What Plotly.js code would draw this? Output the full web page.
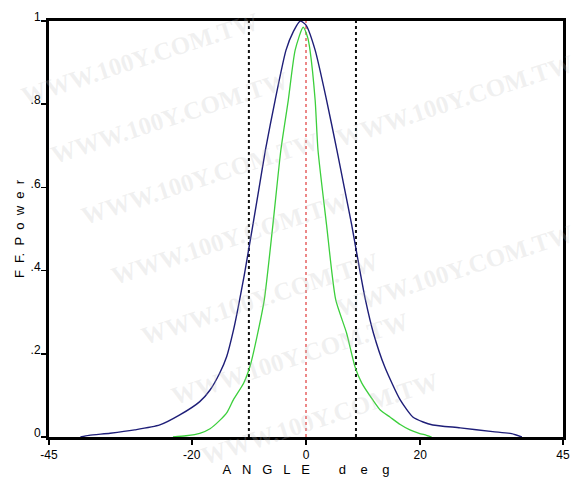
<!DOCTYPE html>
<html>
<head>
<meta charset="utf-8">
<script src="https://cdn.plot.ly/plotly-3.0.1.min.js"></script>
<style>html,body{margin:0;padding:0;background:#fff;}#chart{width:584px;height:482px;}</style>
</head>
<body>
<div id="chart"></div>
<script>
// Wide beam (navy)
const blueAngle = [-39.5,-38,-34.3,-30,-25.6,-22.1,-18.6,-16.8,-15.1,-13.9,-12.7,-11.9,-10.8,-9.3,-8.2,-7.1,-5.4,-3.5,-2.2,-1.0,0.0,1.6,3.6,5.4,6.7,8.0,9.3,10.4,11.8,13.8,16.5,18.7,20.5,22.2,27,32.7,36,37.8];
const bluePower = [0.0,0.004,0.009,0.017,0.029,0.053,0.085,0.113,0.154,0.193,0.257,0.31,0.39,0.51,0.6,0.69,0.81,0.93,0.975,1.0,0.99,0.93,0.81,0.69,0.6,0.51,0.41,0.33,0.25,0.168,0.089,0.048,0.036,0.029,0.022,0.013,0.008,0.0];
// Narrow beam (green)
const greenAngle = [-23.3,-21,-18.6,-16.8,-15.1,-13.8,-12.7,-10.9,-9.8,-8.6,-7.3,-5.8,-4.4,-3.1,-1.9,-0.5,0.3,0.7,1.6,2.1,3.6,5.2,7.1,8.6,9.75,11.7,13,14.7,16.5,18.2,19.8,21.1,22];
const greenPower = [0.0,0.003,0.009,0.02,0.04,0.06,0.09,0.13,0.17,0.24,0.33,0.51,0.69,0.81,0.93,0.985,0.96,0.93,0.81,0.69,0.51,0.33,0.25,0.168,0.13,0.089,0.065,0.048,0.03,0.017,0.009,0.004,0.0];
// Marker lines
const halfPowerAngles = [-10.0, 8.75];
const centerAngle = 0;
// Ticks
const xTickVals = [-45,-20,0,20,45];
const xTickText = ['-45','-20','0','20','45'];
const yTickVals = [0,0.2,0.4,0.6,0.8,1];
const yTickText = ['0','.2','.4','.6','.8','1'];
const watermarkText = 'WWW.100Y.COM.TW';

const traces = [];
halfPowerAngles.forEach(a => traces.push({
  x:[a,a], y:[0,1], mode:'lines', line:{color:'#111', width:2, dash:'3px,3px'}, showlegend:false, hoverinfo:'skip'
}));
traces.push({x:[centerAngle,centerAngle], y:[0,1], mode:'lines', line:{color:'#e03a3a', width:1.2, dash:'3px,3px'}, showlegend:false, hoverinfo:'skip'});
traces.push({x:greenAngle, y:greenPower, mode:'lines', line:{color:'#3ccf3c', width:1.3, shape:'spline', smoothing:0.6}, showlegend:false});
traces.push({x:blueAngle, y:bluePower, mode:'lines', line:{color:'#1e1e78', width:1.4, shape:'spline', smoothing:0.6}, showlegend:false});

// watermark annotations (paper coords relative to plot area: x 49..563 px, y 21..437 px)
const L=49, R=563, T=21, B=437;
function px2paper(px,py){return {x:(px-L)/(R-L), y:(B-py)/(B-T)};}
const annotations = [];
const wmCenters = [[140,58],[170,118],[200,178],[230,238],[260,298],[290,358],[320,418],[455,100],[455,270]];
wmCenters.forEach(c => {
  const p = px2paper(c[0], c[1]);
  annotations.push({xref:'paper', yref:'paper', x:p.x, y:p.y, xanchor:'center', yanchor:'middle', text:watermarkText, showarrow:false, textangle:-18,
    font:{family:'Liberation Serif, DejaVu Serif, serif', size:25, color:'rgba(190,190,190,0.22)', weight:'bold'}});
});

const sp = n => '\u00a0'.repeat(n);
const xTitle = ['A','N','G','L','E'].join(sp(3)) + sp(8) + ['d','e','g'].join(sp(4));
const yTitle = 'F' + sp(2) + 'F.' + sp(2) + ['P','o','w','e','r'].join(sp(2));

const layout = {
  width:584, height:482,
  margin:{l:L, r:584-R, t:T, b:482-B},
  paper_bgcolor:'#fff', plot_bgcolor:'#fff',
  font:{family:'Liberation Sans, Arial, sans-serif', size:12, color:'#000'},
  xaxis:{range:[-45,45], tickvals:xTickVals, ticktext:xTickText, ticks:'outside', ticklen:5, tickwidth:1.5, tickcolor:'#000',
    showline:true, linecolor:'#000', linewidth:3, mirror:true, showgrid:false, zeroline:false,
    tickfont:{size:12},
    title:{text:xTitle, font:{size:13}, standoff:2}},
  yaxis:{range:[0,1], tickvals:yTickVals, ticktext:yTickText, ticks:'outside', ticklen:5, tickwidth:1.5, tickcolor:'#000',
    showline:true, linecolor:'#000', linewidth:3, mirror:true, showgrid:false, zeroline:false,
    tickfont:{size:12}, ticklabelshift:-4, ticklabelstandoff:-2,
    title:{text:yTitle, font:{size:13}, standoff:4}},
  annotations:annotations,
  showlegend:false
};
Plotly.newPlot('chart', traces, layout, {staticPlot:true, displayModeBar:false});
</script>
</body>
</html>
